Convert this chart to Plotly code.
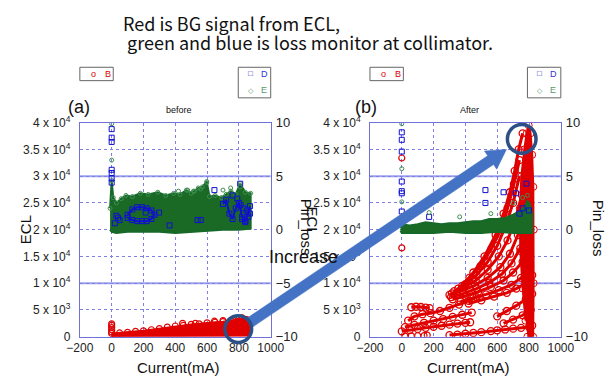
import math
import plotly.graph_objects as go

W, H = 613, 381

# ---------------- data ----------------
# Left panel (before): B = ECL signal (left axis), D/E = Pin_loss (right axis)
L_red_x = [0, 50, 100, 150, 200, 250, 300, 350, 400, 450, 500, 550, 600, 650, 700, 750, 800, 850, 870]
L_red_top = [600, 700, 800, 1000, 1100, 1300, 1500, 1800, 2000, 2100, 2300, 2400, 2600, 2700, 2800, 3000, 3400, 3200, 2800]
L_red_bot = [0, 0, 50, 50, 100, 100, 100, 100, 150, 150, 150, 150, 200, 200, 200, 200, 200, 200, 200]
L_red_pts_x = [0, 0, 0, 0, 0, 446, 526, 646, 700, 760, 820]
L_red_pts_y = [900, 1300, 1700, 2100, 2400, 2500, 2500, 2900, 3000, 3200, 3500]

L_green_top_x = [-10, 0, 10, 30, 60, 90, 130, 180, 230, 290, 340, 390, 430, 470, 500, 520, 545, 570, 598, 615, 650, 690, 720, 750, 780, 808, 840, 874]
L_green_top_y = [2.0, 4.6, 3.0, 2.5, 2.9, 3.2, 3.1, 3.4, 3.3, 3.5, 3.2, 3.4, 3.3, 3.7, 3.4, 3.6, 3.9, 4.0, 4.5, 3.1, 3.2, 3.0, 3.3, 3.6, 3.3, 4.3, 3.5, 3.4]
L_green_bot_x = [874, 800, 700, 600, 500, 400, 300, 200, 100, 30, 0, -10]
L_green_bot_y = [0.1, 0.0, 0.0, -0.1, -0.2, -0.3, -0.2, -0.2, -0.2, -0.3, -0.2, 0.0]
L_E_pts_x = [0, 0, 478, 514, 748, 700, 598, 808, 560, 420]
L_E_pts_y = [9.9, 6.5, 3.7, 3.6, 3.9, 3.7, 4.4, 4.0, 3.8, 3.6]
L_D_ring_x = [100, 130, 160, 190, 220, 250, 270, 250, 220, 190, 160, 130, 100]
L_D_ring_y = [1.4, 1.9, 2.1, 2.1, 2.0, 1.8, 1.4, 1.0, 0.8, 0.8, 0.8, 0.9, 1.1]
L_D_right_x = [700, 720, 740, 760, 780, 800, 820, 840, 860, 870]
L_D_right_y = [2.4, 2.8, 1.5, 1.0, 2.0, 2.5, 1.2, 0.7, 1.6, 2.2]
L_D_pts_x = [0, 0, 0, 0, 0, 0, 0, 30, 50, 646, 808, 760, 790, 810, 830, 850, 870, 820, 840, 860, 540, 560, 364, 214, 298, 20, 40]
L_D_pts_y = [9.4, 8.6, 8.2, 5.6, 5.3, 4.8, 4.4, 1.3, 0.9, 3.7, 4.3, 3.2, 2.9, 2.3, 2.0, 1.8, 1.5, 1.0, 0.8, 1.2, 0.9, 0.9, 0.4, 1.6, 1.6, 0.6, 1.1]

# Right panel (after)
R_green_top_x = [-8, 0, 50, 100, 150, 200, 250, 300, 350, 400, 450, 500, 550, 600, 650, 700, 740, 770, 790, 805, 820]
R_green_top_y = [0.2, 0.5, 0.4, 0.5, 0.7, 0.6, 0.5, 0.6, 0.6, 0.7, 0.8, 0.8, 1.0, 1.0, 1.1, 1.4, 1.7, 2.1, 2.7, 2.4, 1.5]
R_green_bot_x = [820, 700, 600, 500, 400, 300, 200, 100, 0, -8]
R_green_bot_y = [-0.3, -0.3, -0.2, -0.3, -0.3, -0.2, -0.3, -0.3, -0.3, -0.1]
R_E_pts_x = [0, 0, 0, 172, 364, 560, 700, 760, 790]
R_E_pts_y = [9.9, 5.7, 2.6, 1.6, 1.2, 1.5, 2.5, 3.0, 3.2]
R_D_pts_x = [0, 0, 0, 0, 0, 0, 0, 172, 526, 526, 640, 718, 784, 760, 740, 800]
R_D_pts_y = [9.1, 8.4, 7.3, 4.5, 3.6, 3.4, 1.7, 1.2, 3.7, 2.5, 3.5, 3.4, 4.3, 2.0, 1.5, 1.8]

R_B_pts_x = [0, 0, 20, 60, 100, 140, 160]
R_B_pts_y = [33400, 16600, 100, 150, 200, 200, 300]
R_B_bands = [
    # lower long band
    ([300, 350, 400, 450, 500, 560, 600, 650, 700, 750, 800, 820],
     [300, 400, 550, 700, 850, 1050, 1200, 1350, 1500, 1650, 1800, 2100]),
    # left bands
    ([0, 50, 100, 150, 200, 250, 300, 350, 400, 430],
     [1000, 1250, 1450, 1650, 1850, 2050, 2250, 2450, 2600, 2700]),
    ([20, 80, 140, 200, 260, 320, 380, 440],
     [1800, 2200, 2600, 3000, 3300, 3700, 4100, 4500]),
    ([40, 80, 130, 180, 240, 300, 360, 420, 470],
     [3000, 3800, 4200, 4400, 4800, 5400, 6000, 6700, 7400]),
    ([60, 90, 120, 150, 175],
     [5500, 5600, 5550, 5450, 5350]),
    # upper fan
    ([380, 450, 520, 590, 640, 680, 710, 735, 760],
     [9500, 12000, 15000, 19000, 23000, 27000, 31000, 35000, 38000]),
    ([355, 425, 495, 565, 620, 665, 705, 740],
     [9000, 11000, 13200, 16500, 20000, 24000, 28500, 33000]),
    ([330, 400, 470, 540, 600, 650, 700, 740],
     [8500, 9800, 11500, 14000, 17000, 20500, 25000, 30000]),
    ([315, 390, 465, 540, 610, 665, 715, 755],
     [8100, 9200, 10500, 12500, 15000, 18000, 22000, 26500]),
    ([300, 380, 460, 540, 620, 680, 730, 770],
     [7800, 8600, 9600, 11000, 13000, 15500, 19000, 23000]),
    ([310, 390, 470, 550, 630, 690, 745, 785],
     [7400, 8100, 9000, 10100, 11700, 13700, 16500, 20000]),
    ([320, 400, 480, 560, 640, 700, 760, 800],
     [7000, 7600, 8400, 9300, 10500, 12000, 14000, 17000]),
    ([370, 450, 530, 610, 690, 750, 800],
     [6600, 7200, 7900, 8700, 9700, 11000, 12500]),
    ([420, 500, 580, 660, 720, 780, 820],
     [6200, 6800, 7500, 8200, 9000, 10000, 11500]),
    ([600, 660, 720, 780, 820],
     [3800, 4800, 5800, 7000, 8000]),
    ([640, 700, 760, 810],
     [2500, 3200, 4000, 5000]),
]
R_B_col_x = [790, 826, 829, 830, 827, 820, 810, 798, 785, 770, 752, 742, 745, 760, 778]
R_B_col_y = [0, 0, 10000, 20000, 28000, 34000, 38000, 39500, 38000, 35000, 30000, 24000, 16000, 9000, 3000]

x_ticks = [-200, 0, 200, 400, 600, 800, 1000]
x_text = ["\u2212200", "0", "200", "400", "600", "800", "1000"]
ecl_ticks = [0, 5000, 10000, 15000, 20000, 25000, 30000, 35000, 40000]
ecl_text = ["0", "5 x 10<sup>3</sup>", "1 x 10<sup>4</sup>", "1.5 x 10<sup>4</sup>", "2 x 10<sup>4</sup>",
            "2.5 x 10<sup>4</sup>", "3 x 10<sup>4</sup>", "3.5 x 10<sup>4</sup>", "4 x 10<sup>4</sup>"]
pin_ticks = [-10, -5, 0, 5, 10]
pin_text = ["\u221210", "\u22125", "0", "5", "10"]

RED = "#e00000"
BLUE = "#1010d0"
GREEN = "#17692a"
GREEN_FILL = "#1a6a26"
LGREEN = "#3f8f4f"

fig = go.Figure()

def red_markers(x, y, xa, ya, size=6):
    return go.Scatter(x=x, y=y, xaxis=xa, yaxis=ya, mode="markers", showlegend=False,
                      marker=dict(symbol="circle-open", color=RED, size=size, line=dict(width=1.2)))

# ---- left panel ----
fig.add_trace(go.Scatter(x=L_red_x + L_red_x[::-1], y=L_red_top + L_red_bot[::-1], xaxis="x", yaxis="y",
                         fill="toself", fillcolor=RED, mode="lines", line=dict(color=RED, width=2), showlegend=False))
fig.add_trace(red_markers(L_red_x, L_red_top, "x", "y"))
fig.add_trace(red_markers(L_red_pts_x, L_red_pts_y, "x", "y"))

fig.add_trace(go.Scatter(x=L_green_top_x + L_green_bot_x, y=L_green_top_y + L_green_bot_y, xaxis="x", yaxis="y2",
                         fill="toself", fillcolor=GREEN_FILL, mode="lines", line=dict(color=GREEN, width=2), showlegend=False))
fig.add_trace(go.Scatter(x=L_green_top_x, y=L_green_top_y, xaxis="x", yaxis="y2", mode="markers", showlegend=False,
                         marker=dict(symbol="circle-open", color=LGREEN, size=4, line=dict(width=1))))
for dx, dy in ((L_D_ring_x, L_D_ring_y), (L_D_right_x, L_D_right_y)):
    fig.add_trace(go.Scatter(x=dx, y=dy, xaxis="x", yaxis="y2", mode="lines+markers", showlegend=False,
                             line=dict(color=BLUE, width=2),
                             marker=dict(symbol="square-open", color=BLUE, size=5)))
fig.add_trace(go.Scatter(x=L_D_pts_x, y=L_D_pts_y, xaxis="x", yaxis="y2", mode="markers", showlegend=False,
                         marker=dict(symbol="square-open", color=BLUE, size=5, line=dict(width=1))))
fig.add_trace(go.Scatter(x=L_E_pts_x, y=L_E_pts_y, xaxis="x", yaxis="y2", mode="markers", showlegend=False,
                         marker=dict(symbol="circle-open", color=LGREEN, size=4, line=dict(width=1))))

# ---- right panel ----
for bx, by in R_B_bands:
    fig.add_trace(go.Scatter(x=bx, y=by, xaxis="x2", yaxis="y3", mode="lines+markers", showlegend=False,
                             line=dict(color=RED, width=3),
                             marker=dict(symbol="circle-open", color=RED, size=7, line=dict(width=1.3))))
fig.add_trace(go.Scatter(x=R_B_col_x, y=R_B_col_y, xaxis="x2", yaxis="y3", fill="toself", fillcolor=RED,
                         mode="lines+markers", line=dict(color=RED, width=2),
                         marker=dict(symbol="circle-open", color=RED, size=7), showlegend=False))
fig.add_trace(red_markers(R_B_pts_x, R_B_pts_y, "x2", "y3"))

fig.add_trace(go.Scatter(x=R_green_top_x + R_green_bot_x, y=R_green_top_y + R_green_bot_y, xaxis="x2", yaxis="y4",
                         fill="toself", fillcolor=GREEN_FILL, mode="lines", line=dict(color=GREEN, width=2), showlegend=False))
fig.add_trace(go.Scatter(x=R_D_pts_x, y=R_D_pts_y, xaxis="x2", yaxis="y4", mode="markers", showlegend=False,
                         marker=dict(symbol="square-open", color=BLUE, size=5, line=dict(width=1))))
fig.add_trace(go.Scatter(x=R_E_pts_x, y=R_E_pts_y, xaxis="x2", yaxis="y4", mode="markers", showlegend=False,
                         marker=dict(symbol="circle-open", color=LGREEN, size=4, line=dict(width=1))))

# ---------------- axes ----------------
GRID = "#7f7fe6"
BORDER = "#7070d8"
xdomL = [69 / W, 269 / W]
xdomR = [373 / W, 573 / W]
ydom = [38 / H, 262 / H]
tickf = dict(family="Liberation Sans, Arial", size=12, color="#222")

def xax(dom, anchor):
    return dict(domain=dom, anchor=anchor, range=[-200, 1000], tickvals=x_ticks, ticktext=x_text,
                showgrid=True, griddash="dot", gridcolor=GRID, gridwidth=1, zeroline=False,
                showline=True, linecolor=BORDER, linewidth=1, mirror=True, ticks="", tickfont=tickf,
                ticklabelstandoff=0)

def yax_ecl(anchor):
    return dict(domain=ydom, anchor=anchor, range=[0, 40000], tickvals=ecl_ticks, ticktext=ecl_text,
                showgrid=True, griddash="dot", gridcolor=GRID, gridwidth=1, zeroline=False,
                showline=True, linecolor=BORDER, linewidth=1, mirror=True, ticks="", tickfont=tickf,
                ticklabelstandoff=6)

def yax_pin(overlay, anchor):
    return dict(domain=ydom, overlaying=overlay, anchor=anchor, side="right", range=[-10, 10], tickvals=pin_ticks,
                ticktext=pin_text, showgrid=False, zeroline=False, showline=False, ticks="",
                tickfont=dict(family="Liberation Sans, Arial", size=13, color="#222"), ticklabelstandoff=4)

annotations = []
def ann(text, x, y, size, color="#111", angle=0, xanchor="center", family="Liberation Sans, Arial"):
    annotations.append(dict(text=text, x=x / W, y=1 - y / H, xref="paper", yref="paper", showarrow=False,
                            xanchor=xanchor, yanchor="middle", textangle=angle,
                            font=dict(size=size, color=color, family=family)))

TF = "Noto Sans CJK JP"
ann("Red is BG signal from ECL,", 112, 15, 18, xanchor="left", family=TF)
ann(" green and blue is loss monitor at collimator.", 112, 35, 18, xanchor="left", family=TF)
ann("(a)", 68, 103, 18)
ann("(b)", 369, 103, 18)
ann("before", 173, 106, 9)
ann("After", 477, 106, 9)
ann("ECL", 12, 231, 15, angle=-90)
ann("Current(mA)", 172, 375, 15)
ann("Current(mA)", 476, 375, 15)
ann("Pin_loss", 306, 228, 15, angle=90)
ann("ECL", 313, 222, 15, angle=90)
ann("Pin_loss", 612, 229, 15, angle=90)
ann("Increase", 303, 260, 18)
# legend boxes content
for x0 in (69, 373):
    ann("o", x0 + 14, 68, 9, color=RED)
    ann("B", x0 + 29, 68, 9, color=RED)
for x0 in (235, 538):
    ann("\u25a1", x0 + 13, 68, 8, color=BLUE)
    ann("D", x0 + 27, 68, 9, color="#3333dd")
    ann("\u25c7", x0 + 13, 85, 7, color="#5a9a6a")
    ann("E", x0 + 27, 85, 9, color="#5a9a6a")

shapes = []
def rect_px(x0, y0, x1, y1):
    shapes.append(dict(type="rect", xref="paper", yref="paper", x0=x0 / W, x1=x1 / W, y0=1 - y1 / H, y1=1 - y0 / H,
                       line=dict(color="#666", width=1), fillcolor="rgba(0,0,0,0)"))
rect_px(69, 61, 104, 75)
rect_px(373, 61, 408, 75)
rect_px(235, 61, 269, 93)
rect_px(538, 61, 573, 93)

# solid gridlines at Pin = +-5
for xr, yr in (("x", "y2"), ("x2", "y4")):
    for v in (-5, 5):
        shapes.append(dict(type="line", xref=xr + " domain", yref=yr, x0=0, x1=1, y0=v, y1=v, layer="below",
                           line=dict(color="#9aa0ee", width=2)))

# block arrow in pixel space
sx, sy = 246, 329
tx, ty = 516, 147
L = math.hypot(tx - sx, ty - sy)
ux, uy = (tx - sx) / L, (ty - sy) / L
nx, ny = -uy, ux
hw, hh, hl = 5.5, 11.5, 20
bx, by = tx - hl * ux, ty - hl * uy
pts = [(sx + hw * nx, sy + hw * ny), (bx + hw * nx, by + hw * ny), (bx + hh * nx, by + hh * ny), (tx, ty),
       (bx - hh * nx, by - hh * ny), (bx - hw * nx, by - hw * ny), (sx - hw * nx, sy - hw * ny)]
path = "M " + " L ".join(f"{px / W:.5f},{1 - py / H:.5f}" for px, py in pts) + " Z"
shapes.append(dict(type="path", xref="paper", yref="paper", path=path, fillcolor="#4472c4",
                   line=dict(color="#4472c4", width=0.5), layer="above"))
for cx, cy, r in ((235, 335, 14), (532, 136, 15)):
    shapes.append(dict(type="circle", xref="paper", yref="paper", x0=(cx - r) / W, x1=(cx + r) / W,
                       y0=1 - (cy + r) / H, y1=1 - (cy - r) / H, line=dict(color="#2c4f86", width=3.5),
                       fillcolor="rgba(0,0,0,0)", layer="above"))

fig.update_layout(
    width=W, height=H, margin=dict(l=0, r=0, t=0, b=0), paper_bgcolor="white", plot_bgcolor="white",
    showlegend=False,
    xaxis=xax(xdomL, "y"), yaxis=yax_ecl("x"), yaxis2=yax_pin("y", "x"),
    xaxis2=xax(xdomR, "y3"), yaxis3=yax_ecl("x2"), yaxis4=yax_pin("y3", "x2"),
    annotations=annotations, shapes=shapes,
)

fig.write_html("out.html")
